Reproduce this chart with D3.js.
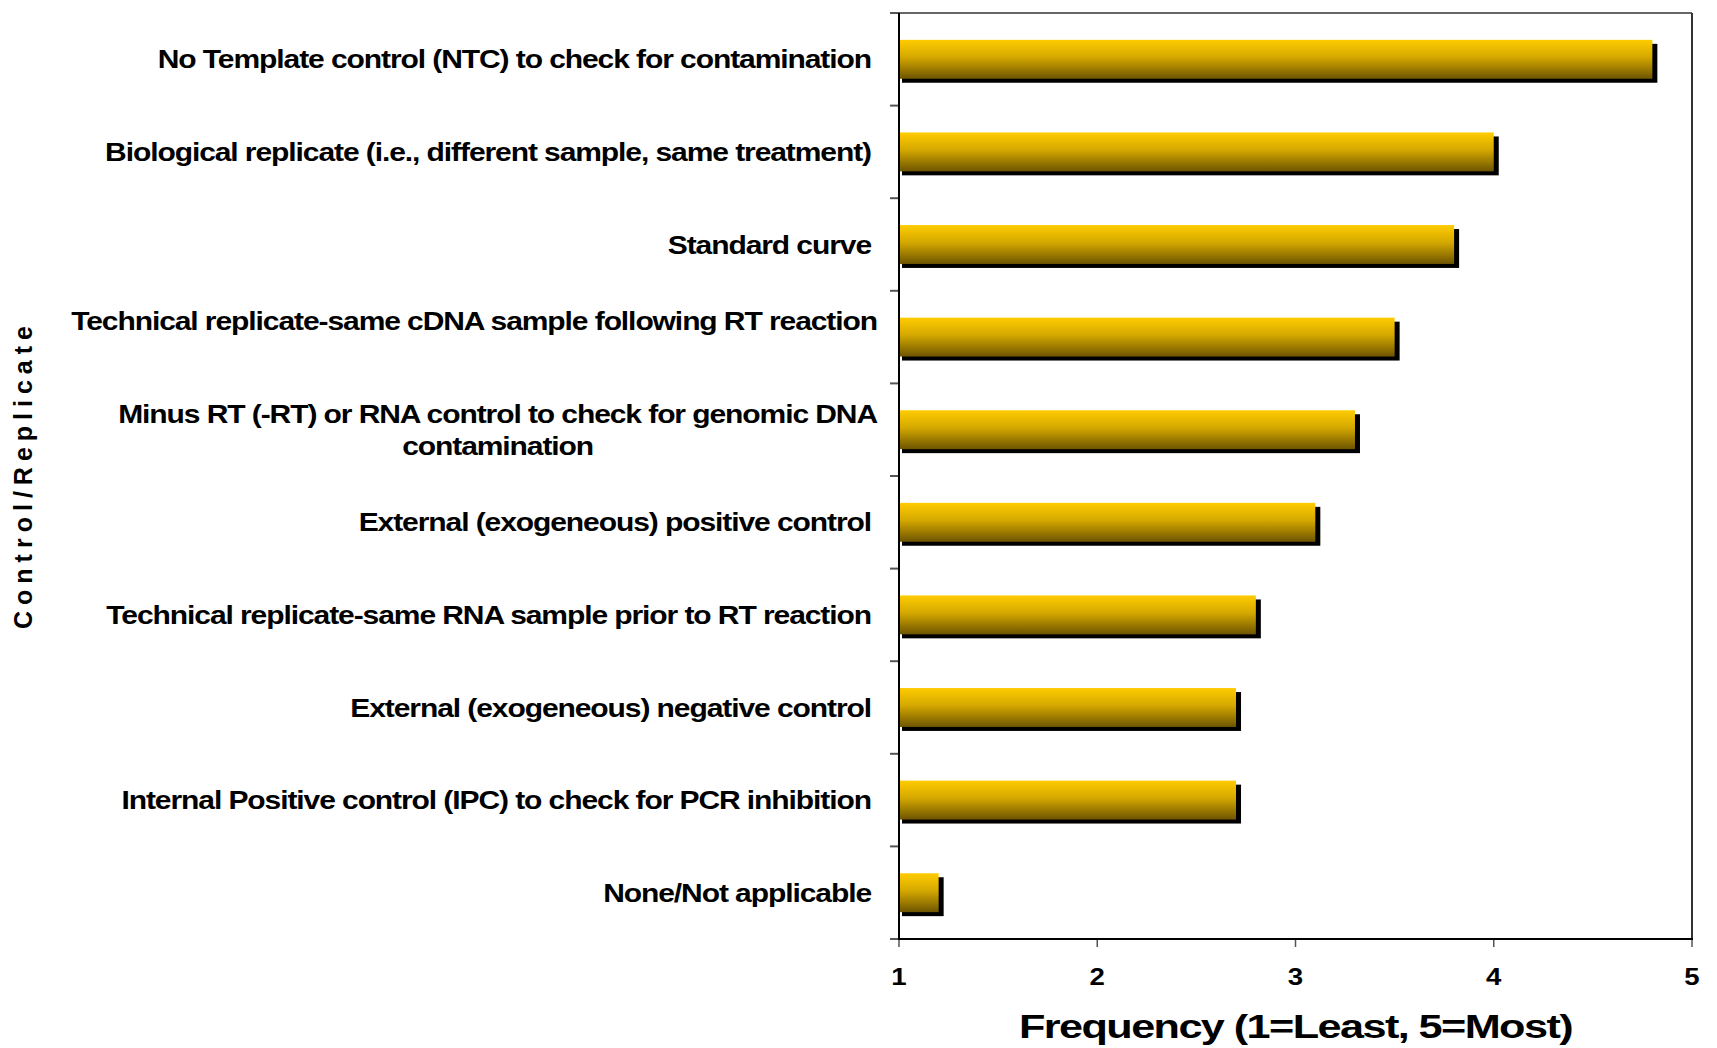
<!DOCTYPE html>
<html>
<head>
<meta charset="utf-8">
<script src="https://cdn.jsdelivr.net/npm/d3@7"></script>
<style>
  html, body { margin: 0; padding: 0; background: #fff; }
  svg { display: block; }
  text { font-family: "Liberation Sans", Arial, sans-serif; font-weight: bold; fill: #000; }
</style>
</head>
<body>
<svg id="chart" width="1717" height="1048"></svg>
<script>
// ---- data ----
const categories = [
  ["No Template control (NTC) to check for contamination"],
  ["Biological replicate (i.e., different sample, same treatment)"],
  ["Standard curve"],
  ["Technical replicate-same cDNA sample following RT reaction", ""],
  ["Minus RT (-RT) or RNA control to check for genomic DNA", "contamination"],
  ["External (exogeneous) positive control"],
  ["Technical replicate-same RNA sample prior to RT reaction"],
  ["External (exogeneous) negative control"],
  ["Internal Positive control (IPC) to check for PCR inhibition"],
  ["None/Not applicable"]
];
const values = [4.8, 4.0, 3.8, 3.5, 3.3, 3.1, 2.8, 2.7, 2.7, 1.2];
const xTicks = [1, 2, 3, 4, 5];
const xTitle = "Frequency (1=Least, 5=Most)";
const yTitle = "Control/Replicate";

// ---- layout ----
const svg = d3.select("#chart");
const plot = { left: 899, right: 1692, top: 13, bottom: 939 };
const keys = categories.map((c, i) => i);

const x = d3.scaleLinear().domain([1, 5]).range([plot.left, plot.right]);
const y = d3.scaleBand().domain(keys).range([plot.top, plot.bottom])
  .paddingInner(0.58).paddingOuter(0.29);

const defs = svg.append("defs");
const grad = defs.append("linearGradient").attr("id", "barGrad")
  .attr("x1", 0).attr("y1", 0).attr("x2", 0).attr("y2", 1);
grad.append("stop").attr("offset", "0%").attr("stop-color", "#FFCC00");
grad.append("stop").attr("offset", "45%").attr("stop-color", "#D4A800");
grad.append("stop").attr("offset", "100%").attr("stop-color", "#6E5500");

// frame (top & right)
svg.append("line").attr("x1", plot.left).attr("x2", plot.right)
  .attr("y1", plot.top).attr("y2", plot.top).attr("stroke", "#333").attr("stroke-width", 1.5);
svg.append("line").attr("x1", plot.right).attr("x2", plot.right)
  .attr("y1", plot.top).attr("y2", plot.bottom).attr("stroke", "#333").attr("stroke-width", 2);

// y-axis boundary ticks
const step = y.step();
const bounds = d3.range(categories.length + 1).map(i => plot.top + i * step);
svg.append("g").selectAll("line").data(bounds).join("line")
  .attr("x1", plot.left - 9).attr("x2", plot.left)
  .attr("y1", d => d).attr("y2", d => d)
  .attr("stroke", "#555").attr("stroke-width", 2);

// x-axis ticks
svg.append("g").selectAll("line").data(xTicks).join("line")
  .attr("x1", d => x(d)).attr("x2", d => x(d))
  .attr("y1", plot.bottom).attr("y2", plot.bottom + 8)
  .attr("stroke", "#555").attr("stroke-width", 1.5);

// bars: shadow then gradient bar
const off = 4;
const bars = svg.append("g");
bars.selectAll("rect.shadow").data(values).join("rect").attr("class", "shadow")
  .attr("x", x(1) + 1 + off - 2)
  .attr("y", (d, i) => y(i) + off)
  .attr("width", d => x(d) - x(1) + 2)
  .attr("height", y.bandwidth())
  .attr("fill", "#000");
bars.selectAll("rect.bar").data(values).join("rect").attr("class", "bar")
  .attr("x", x(1) + 1)
  .attr("y", (d, i) => y(i))
  .attr("width", d => x(d) - x(1) - 1)
  .attr("height", y.bandwidth())
  .attr("fill", "url(#barGrad)");

// axes lines (left & bottom)
svg.append("line").attr("x1", plot.left).attr("x2", plot.left)
  .attr("y1", plot.top).attr("y2", plot.bottom).attr("stroke", "#000").attr("stroke-width", 2);
svg.append("line").attr("x1", plot.left - 1).attr("x2", plot.right + 1)
  .attr("y1", plot.bottom).attr("y2", plot.bottom).attr("stroke", "#000").attr("stroke-width", 2);

// x tick labels
svg.append("g").selectAll("g").data(xTicks).join("g")
  .attr("transform", d => `translate(${x(d)},985) scale(1.2,1)`)
  .append("text")
  .attr("text-anchor", "middle")
  .style("font-size", "23px")
  .text(d => d);

// category labels
const labelScale = 1.2, lineH = 32, fs = 25;
const lg = svg.append("g");
categories.forEach((lines, i) => {
  const cy = y(i) + y.bandwidth() / 2;
  const multi = lines.length > 1;
  const right = multi ? 877 : 871;
  const g = lg.append("g").attr("transform", `translate(${right},${cy}) scale(${labelScale},1)`);
  const texts = lines.map((t, j) => g.append("text")
    .attr("y", (j - (lines.length - 1) / 2) * lineH)
    .attr("dy", "0.36em")
    .style("font-size", fs + "px")
    .style("letter-spacing", "-0.9px")
    .text(t));
  const maxW = d3.max(texts, t => t.node().getComputedTextLength());
  texts.forEach(t => t.attr("text-anchor", "middle").attr("x", -maxW / 2));
});

// x title
svg.append("g").attr("transform", `translate(${(plot.left + plot.right) / 2},1038) scale(1.31,1)`)
  .append("text").attr("text-anchor", "middle")
  .style("font-size", "33px").style("letter-spacing", "-1.2px")
  .text(xTitle);

// y title
svg.append("text")
  .attr("transform", "translate(32,474.5) rotate(-90)")
  .attr("text-anchor", "middle")
  .style("font-size", "25px").style("letter-spacing", "6px")
  .text(yTitle);
</script>
</body>
</html>
